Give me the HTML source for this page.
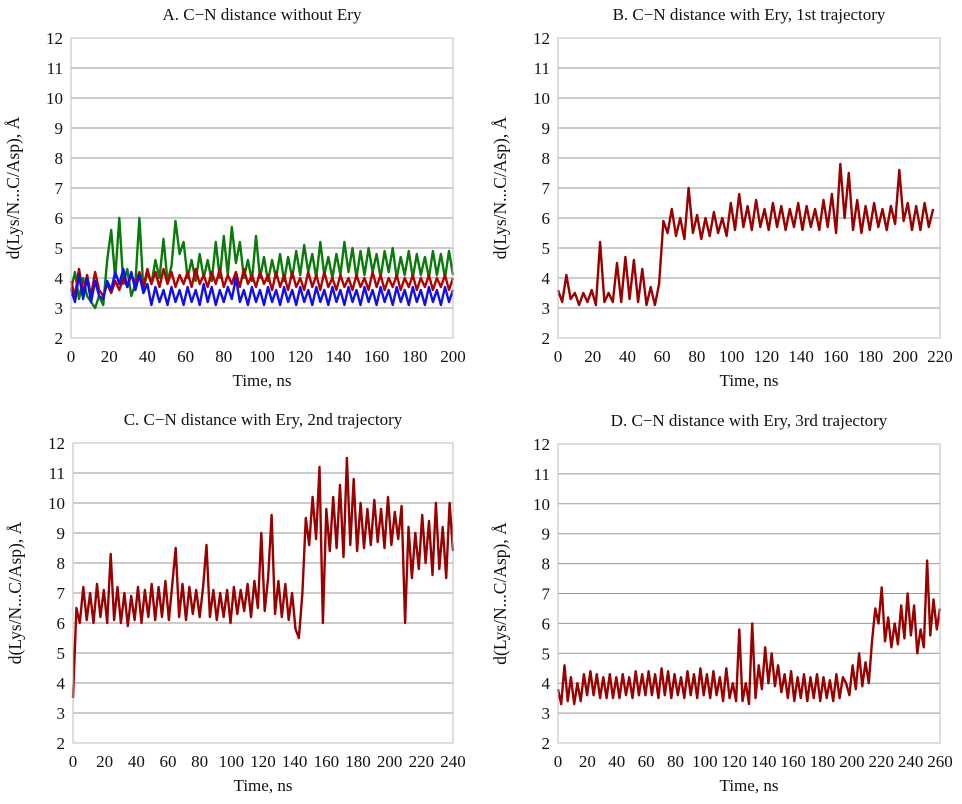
<!DOCTYPE html>
<html><head><meta charset="utf-8">
<style>
body{margin:0;background:#fff;width:962px;height:799px;overflow:hidden;font-family:"Liberation Serif",serif;}
svg text{font-family:"Liberation Serif",serif;fill:#111;}
</style></head>
<body>
<svg id="fig" width="962" height="799"></svg>
<script>
// ---- Panel A data (0-200 ns) ----
const aGreen = [3.6,4.2,3.3,4.0,3.4,3.2,3.0,3.4,3.1,4.6,5.6,4.0,6.0,3.8,4.3,3.4,3.8,6.0,3.6,4.2,3.8,4.6,4.0,5.3,3.9,4.4,5.9,4.8,5.2,4.0,4.6,3.9,4.8,4.0,4.6,3.9,5.2,4.0,5.4,4.1,5.7,4.5,5.2,4.0,4.6,3.9,5.4,4.0,4.7,3.9,4.6,4.0,4.8,3.9,4.7,4.0,4.9,4.1,5.1,4.2,4.8,4.0,5.2,4.1,4.7,4.0,4.8,4.1,5.2,4.2,5.0,4.0,4.9,4.1,5.0,4.2,4.8,4.0,4.9,4.2,5.0,4.0,4.7,4.1,4.9,4.0,4.8,4.1,4.7,4.0,4.9,4.1,4.8,4.0,4.9,4.1];
const aRed = [3.9,3.4,4.3,3.5,4.1,3.4,4.2,3.6,3.4,3.8,3.5,3.9,3.6,4.0,3.7,4.1,3.8,4.2,3.7,4.3,3.8,4.2,3.7,4.3,3.8,4.2,3.7,4.1,3.8,4.2,3.7,4.3,3.8,4.1,3.7,4.2,3.8,4.3,3.7,4.1,3.8,4.2,3.7,4.3,3.8,4.1,3.7,4.2,3.8,4.1,3.6,4.2,3.7,4.1,3.6,4.2,3.7,4.0,3.6,4.2,3.7,4.1,3.6,4.2,3.7,4.0,3.6,4.1,3.7,4.0,3.6,4.1,3.7,4.0,3.6,4.2,3.7,4.1,3.6,4.0,3.7,4.1,3.6,4.0,3.7,4.1,3.6,4.0,3.7,4.1,3.6,4.0,3.7,4.1,3.6,4.0];
const aBlue = [3.6,3.2,4.1,3.3,4.0,3.2,3.9,3.4,3.3,3.9,3.6,4.2,3.8,4.3,3.7,4.2,3.6,4.1,3.5,3.8,3.1,3.7,3.2,3.6,3.1,3.7,3.2,3.6,3.1,3.7,3.2,3.6,3.1,3.8,3.2,3.7,3.1,3.6,3.2,3.7,3.3,4.0,3.2,3.6,3.1,3.7,3.2,3.6,3.1,3.7,3.2,3.6,3.1,3.7,3.2,3.6,3.1,3.7,3.2,3.6,3.1,3.7,3.2,3.6,3.1,3.7,3.2,3.6,3.1,3.7,3.2,3.6,3.1,3.7,3.2,3.6,3.1,3.7,3.2,3.6,3.1,3.7,3.2,3.6,3.1,3.7,3.2,3.6,3.1,3.7,3.2,3.6,3.1,3.7,3.2,3.6];
// ---- Panel B data (0-216 ns) ----
const bValues = [3.6,3.2,4.1,3.3,3.5,3.1,3.5,3.2,3.6,3.1,5.2,3.2,3.5,3.2,4.5,3.2,4.7,3.3,4.6,3.2,4.3,3.1,3.7,3.1,3.8,5.9,5.5,6.3,5.4,6.0,5.3,7.0,5.5,6.1,5.3,6.0,5.4,6.2,5.5,6.0,5.4,6.5,5.6,6.8,5.7,6.4,5.6,6.6,5.7,6.3,5.6,6.5,5.7,6.4,5.6,6.3,5.7,6.5,5.6,6.4,5.7,6.3,5.6,6.6,5.7,6.8,5.5,7.8,6.0,7.5,5.6,6.6,5.5,6.4,5.6,6.5,5.7,6.3,5.6,6.4,5.8,7.6,5.9,6.5,5.6,6.4,5.6,6.5,5.7,6.3];
// ---- Panel C data (0-240 ns) ----
const cValues = [3.5,6.5,6.0,7.2,6.1,7.0,6.0,7.3,6.2,7.1,6.0,8.3,6.1,7.2,6.0,7.0,5.9,6.9,6.1,7.2,6.0,7.1,6.2,7.3,6.1,7.2,6.2,7.4,6.1,7.3,8.5,6.2,7.3,6.1,7.2,6.3,7.1,6.2,7.2,8.6,6.2,7.1,6.1,7.0,6.2,7.1,6.0,7.2,6.3,7.1,6.4,7.3,6.2,7.4,6.5,9.0,6.4,7.5,9.6,6.3,7.4,6.2,7.3,6.1,7.0,5.8,5.5,7.0,9.5,8.6,10.2,8.8,11.2,6.0,9.8,8.4,10.2,8.5,10.6,8.2,11.5,8.6,10.8,8.4,10.0,8.5,9.8,8.6,10.1,8.7,9.8,8.5,10.2,8.6,9.7,8.8,9.9,6.0,9.2,7.5,9.0,7.8,9.6,8.0,9.4,7.6,10.0,7.8,9.2,7.5,10.0,8.4];
// ---- Panel D data (0-260 ns) ----
const dValues = [3.8,3.3,4.6,3.4,4.2,3.3,4.0,3.4,4.3,3.6,4.4,3.6,4.3,3.5,4.2,3.5,4.3,3.5,4.2,3.5,4.3,3.6,4.2,3.5,4.4,3.6,4.3,3.6,4.4,3.6,4.3,3.5,4.5,3.6,4.4,3.5,4.3,3.6,4.2,3.5,4.4,3.6,4.3,3.5,4.5,3.6,4.3,3.5,4.4,3.6,4.2,3.4,4.5,3.5,4.0,3.4,5.8,3.4,4.0,3.3,6.0,3.5,4.6,3.8,5.2,4.0,5.0,3.9,4.6,3.7,4.3,3.5,4.4,3.4,4.2,3.5,4.3,3.4,4.2,3.5,4.3,3.4,4.2,3.5,4.1,3.4,4.3,3.5,4.2,4.0,3.6,4.6,3.8,5.0,3.9,4.7,4.0,5.4,6.5,6.0,7.2,5.4,6.2,5.2,6.0,5.3,6.6,5.5,7.0,5.6,6.6,5.0,5.8,5.2,8.1,5.6,6.8,5.8,6.5];

const yTicks = [2,3,4,5,6,7,8,9,10,11,12];
const aXTicks = [0,20,40,60,80,100,120,140,160,180,200];
const bXTicks = [0,20,40,60,80,100,120,140,160,180,200,220];
const cXTicks = [0,20,40,60,80,100,120,140,160,180,200,220,240];
const dXTicks = [0,20,40,60,80,100,120,140,160,180,200,220,240,260];

const NS='http://www.w3.org/2000/svg';
const fig=document.getElementById('fig');
function mk(tag,attrs,parent){const e=document.createElementNS(NS,tag);for(const k in attrs)e.setAttribute(k,attrs[k]);(parent||fig).appendChild(e);return e;}

function panel(id,title,L,R,T,B,xMax,xTicks,series,tEnds){
  const g=mk('g',{});
  
  
  const xs=v=>L+(v/xMax)*(R-L);
  const ys=v=>B-(v-2)/10*(B-T);
  const t=mk('text',{x:(L+R)/2,y:T-18,'text-anchor':'middle','font-size':'17'},g);
  t.textContent=title;
  
  
  yTicks.forEach(v=>{
    if(v>2&&v<12){const gl=mk('line',{x1:L,x2:R,y1:ys(v),y2:ys(v),stroke:'#9a9a9a','stroke-width':'1'},g);
    
    }
    const tl=mk('text',{x:L-8,y:ys(v)+6,'text-anchor':'end','font-size':'17'},g);
    tl.textContent=v;
    
    
  });
  xTicks.forEach(v=>{
    const tl=mk('text',{x:xs(v),y:B+24,'text-anchor':'middle','font-size':'17'},g);
    tl.textContent=v;
    
    
  });
  series.forEach((s,si)=>{
    const vals=s.v, n=vals.length, tEnd=tEnds[si];
    let d='';
    vals.forEach((v,i)=>{d+=(i?'L':'M')+xs(i*tEnd/(n-1)).toFixed(1)+','+ys(v).toFixed(1);});
    const p=mk('path',{d:d,fill:'none',stroke:s.c,'stroke-width':'2.4','stroke-linejoin':'round'},g);
    
    
  });
  const fr=mk('rect',{x:L,y:T,width:R-L,height:B-T,fill:'none',stroke:'#bdbdbd','stroke-width':'1'},g);
  
  
  const xl=mk('text',{x:(L+R)/2,y:B+48,'text-anchor':'middle','font-size':'17'},g);
  xl.textContent='Time, ns';
  
  
  const cy=(T+B)/2, cx=L-52;
  const yl=mk('text',{x:cx,y:cy,'text-anchor':'middle','font-size':'17.5',transform:'rotate(-90 '+cx+' '+cy+')'},g);
  yl.textContent='d(Lys/N...C/Asp), Å';
  
  
}
panel('a','A. C−N distance without Ery',71,453,38,338,200,aXTicks,
  [{v:aGreen,c:'#0a7a0a',name:'series-green'},{v:aRed,c:'#b00000',name:'series-red'},{v:aBlue,c:'#1010ee',name:'series-blue'}],[200,200,200]);
panel('b','B. C−N distance with Ery, 1st trajectory',558,940,38,338,220,bXTicks,
  [{v:bValues,c:'#990000',name:'series-b'}],[216]);
panel('c','C. C−N distance with Ery, 2nd trajectory',73,453,443,743,240,cXTicks,
  [{v:cValues,c:'#990000',name:'series-c'}],[240]);
panel('d','D. C−N distance with Ery, 3rd trajectory',558,940,444,743,260,dXTicks,
  [{v:dValues,c:'#990000',name:'series-d'}],[260]);
</script>
</body></html>
